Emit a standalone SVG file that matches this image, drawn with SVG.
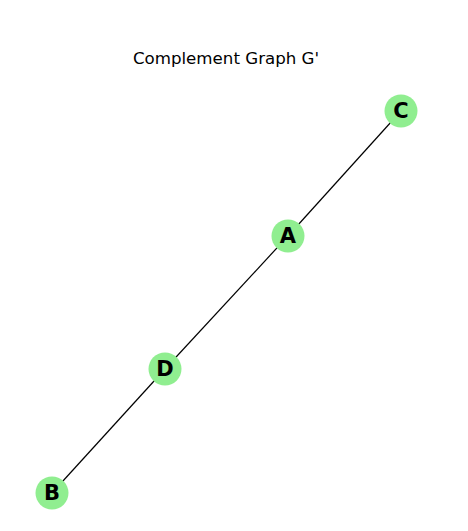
<svg xmlns="http://www.w3.org/2000/svg" width="468" height="531" viewBox="0 0 468 531">
<style>
.node circle{fill:#90ee90;stroke:none}
.node text{font-family:"DejaVu Sans",sans-serif;font-weight:bold;font-size:21px;fill:#000;text-anchor:middle;dominant-baseline:central}
.edge{stroke:#000;stroke-width:1.2;fill:none}
.title{font-family:"DejaVu Sans",sans-serif;font-size:16.67px;fill:#000;text-anchor:middle}
</style>
<rect width="468" height="531" fill="#fff"/>
<text class="title" x="226" y="64">Complement Graph G'</text>
<g id="edges">
<line class="edge" x1="401" y1="111" x2="288" y2="236"/>
<line class="edge" x1="288" y1="236" x2="165" y2="369"/>
<line class="edge" x1="165" y1="369" x2="52" y2="493"/>
</g>
<g id="node-C" class="node"><circle cx="401" cy="111" r="16.5"/><text x="401" y="111">C</text></g>
<g id="node-A" class="node"><circle cx="288" cy="236" r="16.5"/><text x="288" y="236">A</text></g>
<g id="node-D" class="node"><circle cx="165" cy="369" r="16.5"/><text x="165" y="369">D</text></g>
<g id="node-B" class="node"><circle cx="52" cy="493" r="16.5"/><text x="52" y="493">B</text></g>
</svg>
